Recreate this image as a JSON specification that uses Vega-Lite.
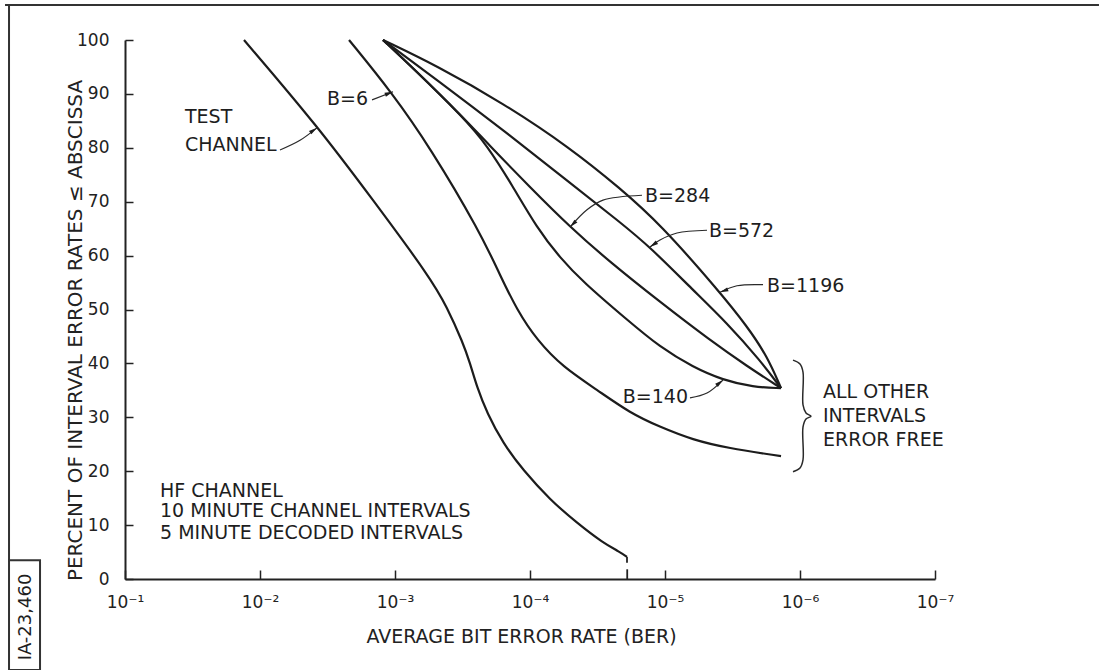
{
  "$schema": "https://vega.github.io/schema/vega-lite/v6.json",
  "width": 810,
  "height": 539,
  "autosize": "none",
  "padding": {"left": 125, "top": 40, "right": 164, "bottom": 91},
  "background": "#ffffff",
  "config": {
    "view": {"stroke": null},
    "font": "DejaVu Sans",
    "text": {"font": "DejaVu Sans", "color": "#1e1e1e"}
  },
  "datasets": {
    "curves": [
      {"s": "TEST CHANNEL", "i": 0, "x": 0.01314, "y": 100},
      {"s": "TEST CHANNEL", "i": 1, "x": 0.003719, "y": 83.9},
      {"s": "TEST CHANNEL", "i": 2, "x": 0.001455, "y": 70.3},
      {"s": "TEST CHANNEL", "i": 3, "x": 0.0005505, "y": 56.0},
      {"s": "TEST CHANNEL", "i": 4, "x": 0.000412, "y": 50.5},
      {"s": "TEST CHANNEL", "i": 5, "x": 0.0003135, "y": 43.8},
      {"s": "TEST CHANNEL", "i": 6, "x": 0.0002783, "y": 40.1},
      {"s": "TEST CHANNEL", "i": 7, "x": 0.000247, "y": 35.6},
      {"s": "TEST CHANNEL", "i": 8, "x": 0.0002082, "y": 30.8},
      {"s": "TEST CHANNEL", "i": 9, "x": 0.0001585, "y": 25.2},
      {"s": "TEST CHANNEL", "i": 10, "x": 0.0001127, "y": 20.2},
      {"s": "TEST CHANNEL", "i": 11, "x": 0.0000711, "y": 14.7},
      {"s": "TEST CHANNEL", "i": 12, "x": 0.00004486, "y": 10.4},
      {"s": "TEST CHANNEL", "i": 13, "x": 0.00002879, "y": 6.7},
      {"s": "TEST CHANNEL", "i": 14, "x": 0.00002154, "y": 5.0},
      {"s": "TEST CHANNEL", "i": 15, "x": 0.00001912, "y": 4.1},
      {"s": "B=6", "i": 0, "x": 0.002191, "y": 100},
      {"s": "B=6", "i": 1, "x": 0.001052, "y": 90.2},
      {"s": "B=6", "i": 2, "x": 0.0005505, "y": 80.1},
      {"s": "B=6", "i": 3, "x": 0.0002346, "y": 64.4},
      {"s": "B=6", "i": 4, "x": 0.0001668, "y": 56.4},
      {"s": "B=6", "i": 5, "x": 0.0001248, "y": 49.9},
      {"s": "B=6", "i": 6, "x": 0.00008874, "y": 44.3},
      {"s": "B=6", "i": 7, "x": 0.00005696, "y": 39.3},
      {"s": "B=6", "i": 8, "x": 0.0000319, "y": 35.1},
      {"s": "B=6", "i": 9, "x": 0.00001817, "y": 30.8},
      {"s": "B=6", "i": 10, "x": 0.00001089, "y": 28.2},
      {"s": "B=6", "i": 11, "x": 0.0000062, "y": 25.8},
      {"s": "B=6", "i": 12, "x": 0.000003473, "y": 24.3},
      {"s": "B=6", "i": 13, "x": 0.000001382, "y": 22.8},
      {"s": "B=140", "i": 0, "x": 0.001227, "y": 100},
      {"s": "B=140", "i": 1, "x": 0.0007356, "y": 94.8},
      {"s": "B=140", "i": 2, "x": 0.0003135, "y": 85.7},
      {"s": "B=140", "i": 3, "x": 0.0002082, "y": 80.5},
      {"s": "B=140", "i": 4, "x": 0.0001359, "y": 73.1},
      {"s": "B=140", "i": 5, "x": 0.00008874, "y": 65.1},
      {"s": "B=140", "i": 6, "x": 0.00005995, "y": 59.6},
      {"s": "B=140", "i": 7, "x": 0.00004049, "y": 55.1},
      {"s": "B=140", "i": 8, "x": 0.00001912, "y": 48.1},
      {"s": "B=140", "i": 9, "x": 0.00001089, "y": 43.0},
      {"s": "B=140", "i": 10, "x": 0.0000062, "y": 39.3},
      {"s": "B=140", "i": 11, "x": 0.000003719, "y": 36.9},
      {"s": "B=140", "i": 12, "x": 0.000002229, "y": 35.6},
      {"s": "B=140", "i": 13, "x": 0.000001382, "y": 35.4},
      {"s": "B=284", "i": 0, "x": 0.001227, "y": 100},
      {"s": "B=284", "i": 1, "x": 0.0007356, "y": 94.8},
      {"s": "B=284", "i": 2, "x": 0.0003135, "y": 85.7},
      {"s": "B=284", "i": 3, "x": 0.0002082, "y": 80.9},
      {"s": "B=284", "i": 4, "x": 0.0001, "y": 72.7},
      {"s": "B=284", "i": 5, "x": 0.00005053, "y": 65.3},
      {"s": "B=284", "i": 6, "x": 0.00002555, "y": 58.8},
      {"s": "B=284", "i": 7, "x": 0.00001089, "y": 51.4},
      {"s": "B=284", "i": 8, "x": 0.000004642, "y": 44.3},
      {"s": "B=284", "i": 9, "x": 0.00000247, "y": 39.5},
      {"s": "B=284", "i": 10, "x": 0.000001382, "y": 35.4},
      {"s": "B=572", "i": 0, "x": 0.001227, "y": 100},
      {"s": "B=572", "i": 1, "x": 0.0004885, "y": 92.6},
      {"s": "B=572", "i": 2, "x": 0.0001585, "y": 83.3},
      {"s": "B=572", "i": 3, "x": 0.00005053, "y": 73.5},
      {"s": "B=572", "i": 4, "x": 0.00002154, "y": 66.2},
      {"s": "B=572", "i": 5, "x": 0.00001291, "y": 61.6},
      {"s": "B=572", "i": 6, "x": 0.0000062, "y": 53.6},
      {"s": "B=572", "i": 7, "x": 0.000003473, "y": 47.5},
      {"s": "B=572", "i": 8, "x": 0.000001978, "y": 40.6},
      {"s": "B=572", "i": 9, "x": 0.000001382, "y": 35.4},
      {"s": "B=1196", "i": 0, "x": 0.001227, "y": 100},
      {"s": "B=1196", "i": 1, "x": 0.0004885, "y": 95.2},
      {"s": "B=1196", "i": 2, "x": 0.0001585, "y": 88.3},
      {"s": "B=1196", "i": 3, "x": 0.00005053, "y": 80.0},
      {"s": "B=1196", "i": 4, "x": 0.00002154, "y": 72.5},
      {"s": "B=1196", "i": 5, "x": 0.00001089, "y": 65.9},
      {"s": "B=1196", "i": 6, "x": 0.000003913, "y": 53.2},
      {"s": "B=1196", "i": 7, "x": 0.00000247, "y": 46.9},
      {"s": "B=1196", "i": 8, "x": 0.000001755, "y": 41.4},
      {"s": "B=1196", "i": 9, "x": 0.000001382, "y": 35.4}
    ],
    "leaders": [
      {"s": "TEST CHANNEL", "i": 0, "x": 0.00711, "y": 79.6},
      {"s": "TEST CHANNEL", "i": 1, "x": 0.005053, "y": 81.4},
      {"s": "TEST CHANNEL", "i": 2, "x": 0.003783, "y": 83.7},
      {"s": "B=6", "i": 0, "x": 0.00148, "y": 88.9},
      {"s": "B=6", "i": 1, "x": 0.001035, "y": 90.4},
      {"s": "B=284", "i": 0, "x": 0.0000148, "y": 71.2},
      {"s": "B=284", "i": 1, "x": 0.00002879, "y": 70.3},
      {"s": "B=284", "i": 2, "x": 0.00003783, "y": 68.5},
      {"s": "B=284", "i": 3, "x": 0.00005053, "y": 65.3},
      {"s": "B=572", "i": 0, "x": 0.000004885, "y": 64.7},
      {"s": "B=572", "i": 1, "x": 0.000008149, "y": 64.2},
      {"s": "B=572", "i": 2, "x": 0.00001089, "y": 62.9},
      {"s": "B=572", "i": 3, "x": 0.00001291, "y": 61.6},
      {"s": "B=1196", "i": 0, "x": 0.000001879, "y": 54.6},
      {"s": "B=1196", "i": 1, "x": 0.000002929, "y": 54.4},
      {"s": "B=1196", "i": 2, "x": 0.000003913, "y": 53.2},
      {"s": "B=140", "i": 0, "x": 0.00000653, "y": 33.6},
      {"s": "B=140", "i": 1, "x": 0.000004885, "y": 34.5},
      {"s": "B=140", "i": 2, "x": 0.000003719, "y": 36.9}
    ],
    "arrows": [
      {"s": "TEST CHANNEL", "x": 0.003783, "y": 83.7},
      {"s": "B=6", "x": 0.001035, "y": 90.4},
      {"s": "B=284", "x": 0.00005053, "y": 65.3},
      {"s": "B=572", "x": 0.00001291, "y": 61.6},
      {"s": "B=1196", "x": 0.000003913, "y": 53.2},
      {"s": "B=140", "x": 0.000003719, "y": 36.9}
    ],
    "notes": [
      {"t": "TEST", "x": 0.03594, "y": 85.7},
      {"t": "CHANNEL", "x": 0.03594, "y": 80.5},
      {"t": "B=6", "x": 0.001585, "y": 89.1},
      {"t": "B=284", "x": 0.00001406, "y": 71.1},
      {"t": "B=572", "x": 0.000004722, "y": 64.6},
      {"t": "B=1196", "x": 0.000001755, "y": 54.4},
      {"t": "B=140", "x": 0.000006755, "y": 33.8},
      {"t": "ALL OTHER", "x": 0.0000006755, "y": 34.7},
      {"t": "INTERVALS", "x": 0.0000006755, "y": 30.2},
      {"t": "ERROR FREE", "x": 0.0000006755, "y": 25.8},
      {"t": "HF CHANNEL", "x": 0.05505, "y": 16.3},
      {"t": "10 MINUTE CHANNEL INTERVALS", "x": 0.05505, "y": 12.6},
      {"t": "5 MINUTE DECODED INTERVALS", "x": 0.05505, "y": 8.5}
    ],
    "brace": [
      {"i": 0, "x": 0.000001127, "y": 40.6},
      {"i": 1, "x": 0.000001, "y": 39.9},
      {"i": 2, "x": 0.00000095, "y": 38.4},
      {"i": 3, "x": 0.00000095, "y": 32.3},
      {"i": 4, "x": 0.000000903, "y": 30.8},
      {"i": 5, "x": 0.000000829, "y": 30.2},
      {"i": 6, "x": 0.000000903, "y": 29.7},
      {"i": 7, "x": 0.00000095, "y": 28.2},
      {"i": 8, "x": 0.00000095, "y": 22.1},
      {"i": 9, "x": 0.000001, "y": 20.6},
      {"i": 10, "x": 0.000001127, "y": 19.9}
    ]
  },
  "encoding": {
    "x": {
      "field": "x",
      "type": "quantitative",
      "scale": {"type": "log", "domain": [0.0000001, 0.1], "reverse": true},
      "axis": {
        "values": [0.1, 0.01, 0.001, 0.0001, 0.00001, 0.000001, 0.0000001],
        "labelExpr": "'10⁻' + ['0','¹','²','³','⁴','⁵','⁶','⁷'][round(-log(datum.value)/LN10)]",
        "grid": false,
        "tickSize": -9,
        "tickWidth": 1.5,
        "tickColor": "#222222",
        "domainColor": "#222222",
        "domainWidth": 2,
        "labelFontSize": 17,
        "labelFont": "DejaVu Sans",
        "labelColor": "#222222",
        "labelPadding": 24,
        "labelFlush": false,
        "labelOverlap": false,
        "title": "AVERAGE BIT ERROR RATE (BER)",
        "titleFont": "DejaVu Sans",
        "titleFontSize": 19,
        "titleFontWeight": "normal",
        "titleColor": "#222222",
        "titleX": 396,
        "titleY": 57,
        "titleBaseline": "middle",
        "titleAlign": "center"
      }
    },
    "y": {
      "field": "y",
      "type": "quantitative",
      "scale": {"domain": [0, 100], "nice": false, "zero": false},
      "axis": {
        "values": [0, 10, 20, 30, 40, 50, 60, 70, 80, 90, 100],
        "grid": false,
        "tickSize": -8,
        "tickWidth": 1.5,
        "tickColor": "#222222",
        "domainColor": "#222222",
        "domainWidth": 2,
        "labelFontSize": 17,
        "labelFont": "DejaVu Sans",
        "labelColor": "#222222",
        "labelPadding": 24,
        "labelFlush": false,
        "labelOverlap": false,
        "title": "PERCENT OF INTERVAL ERROR RATES ≤ ABSCISSA",
        "titleFont": "DejaVu Sans",
        "titleFontSize": 20,
        "titleFontWeight": "normal",
        "titleColor": "#222222",
        "titleX": -50,
        "titleY": 290,
        "titleAngle": 270,
        "titleBaseline": "middle",
        "titleAlign": "center"
      }
    }
  },
  "layer": [
    {
      "data": {"name": "curves"},
      "mark": {"type": "line", "interpolate": "basis", "color": "#1c1c1c", "strokeWidth": 2.2},
      "encoding": {"detail": {"field": "s"}, "order": {"field": "i", "type": "quantitative"}}
    },
    {
      "data": {"name": "leaders"},
      "mark": {"type": "line", "interpolate": "catmull-rom", "color": "#2a2a2a", "strokeWidth": 1.2},
      "encoding": {"detail": {"field": "s"}, "order": {"field": "i", "type": "quantitative"}}
    },
    {
      "data": {"name": "arrows"},
      "mark": {"type": "point", "shape": "M0,0L0.5,2L-0.5,2Z", "filled": true, "color": "#1c1c1c", "opacity": 1, "size": 70, "strokeWidth": 0},
      "encoding": {
        "angle": {
          "condition": [
            {"test": "datum.s === 'TEST CHANNEL'", "value": 55},
            {"test": "datum.s === 'B=6'", "value": 69},
            {"test": "datum.s === 'B=284'", "value": 225},
            {"test": "datum.s === 'B=572'", "value": 235},
            {"test": "datum.s === 'B=1196'", "value": 250}
          ],
          "value": 51
        }
      }
    },
    {
      "data": {"name": "brace"},
      "mark": {"type": "line", "interpolate": "catmull-rom", "color": "#2a2a2a", "strokeWidth": 1.5},
      "encoding": {"order": {"field": "i", "type": "quantitative"}}
    },
    {
      "data": {"name": "notes"},
      "transform": [{"filter": "datum.t !== 'B=6' && datum.t !== 'B=140'"}],
      "mark": {"type": "text", "align": "left", "baseline": "middle", "fontSize": 19, "font": "DejaVu Sans", "color": "#1e1e1e"},
      "encoding": {"text": {"field": "t"}}
    },
    {
      "data": {"name": "notes"},
      "transform": [{"filter": "datum.t === 'B=6' || datum.t === 'B=140'"}],
      "mark": {"type": "text", "align": "right", "baseline": "middle", "fontSize": 19, "font": "DejaVu Sans", "color": "#1e1e1e"},
      "encoding": {"text": {"field": "t"}}
    },
    {
      "data": {"values": [{"x": 0.00001905, "y": 0, "y2": 1.8}, {"x": 0.00001912, "y": 3.0, "y2": 4.1}]},
      "mark": {"type": "rule", "color": "#222222", "strokeWidth": 1.8},
      "encoding": {"y2": {"field": "y2"}}
    },
    {
      "data": {"values": [{"x": 0.774, "x2": 0.0000000061, "y": 106.5}]},
      "mark": {"type": "rule", "color": "#333333", "strokeWidth": 2},
      "encoding": {"x2": {"field": "x2"}}
    },
    {
      "data": {"values": [{"x": 0.723, "y": 106.5, "y2": 3.5}]},
      "mark": {"type": "rule", "color": "#333333", "strokeWidth": 2},
      "encoding": {"y2": {"field": "y2"}}
    },
    {
      "data": {"values": [{"x": 0.723, "x2": 0.426, "y": 3.5, "y2": -16.9}]},
      "mark": {"type": "rect", "filled": false, "stroke": "#333333", "strokeWidth": 2, "fill": null},
      "encoding": {"x2": {"field": "x2"}, "y2": {"field": "y2"}}
    },
    {
      "data": {"values": [{"t": "IA-23,460", "x": 0.5412, "y": -7.05}]},
      "mark": {"type": "text", "angle": 270, "align": "center", "baseline": "middle", "fontSize": 18, "font": "DejaVu Sans", "color": "#1e1e1e"},
      "encoding": {"text": {"field": "t"}}
    }
  ]
}
